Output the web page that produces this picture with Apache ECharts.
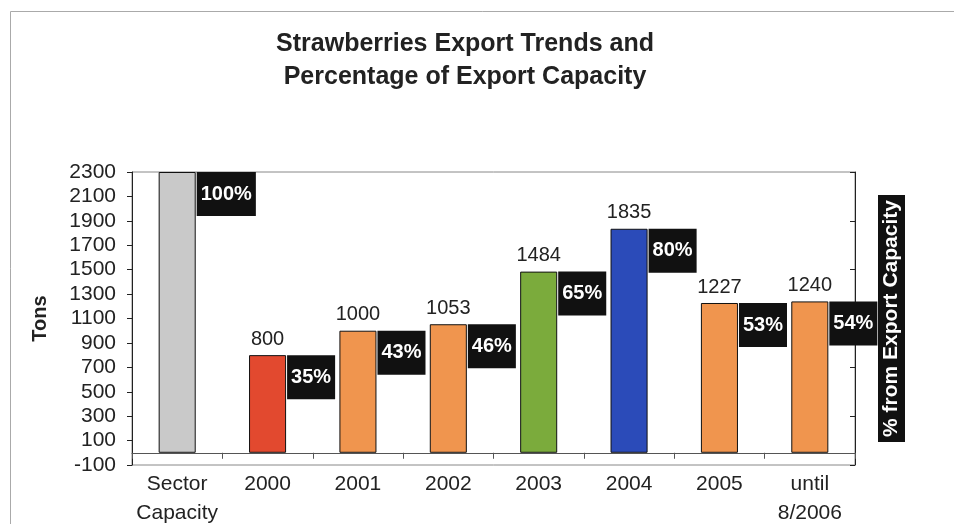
<!DOCTYPE html>
<html>
<head>
<meta charset="utf-8">
<script src="https://cdn.jsdelivr.net/npm/echarts@6/dist/echarts.min.js"></script>
<style>
	html, body { margin: 0; padding: 0; background: #fff; }
	#chart { width: 954px; height: 524px; }
</style>
</head>
<body>
<div id="chart"></div>
<script>
	// 数据
	var categories = ['Sector\nCapacity', '2000', '2001', '2002', '2003', '2004', '2005', 'until\n8/2006'];
	var tons = [2300, 800, 1000, 1053, 1484, 1835, 1227, 1240];
	var pctOfCapacity = [100, 35, 43, 46, 65, 80, 53, 54];
	var tonsTicks = { min: -100, max: 2300, step: 200 };
	var pctTicks = { min: 0, max: 120, step: 20 };

	var barColors = ['#c9c9c9', '#e2492f', '#f0954e', '#f0954e', '#7bab3c', '#2b4bb9', '#f0954e', '#f0954e'];

	var font = 'Liberation Sans, Arial, sans-serif';
	var myChart = echarts.init(document.getElementById('chart'));

	var option = {
		backgroundColor: '#fff',
		animation: false,
		title: {
			text: 'Strawberries Export Trends and\nPercentage of Export Capacity',
			left: 460,
			textAlign: 'center',
			top: 23,
			textStyle: {
				fontFamily: font,
				fontSize: 25,
				fontWeight: 'bold',
				color: '#222',
				lineHeight: 33
			}
		},
		graphic: [{
			type: 'rect',
			shape: { x: 10.5, y: 11.5, width: 960, height: 540 },
			style: { fill: 'none', stroke: '#aaa', lineWidth: 1 },
			silent: true
		}],
		grid: {
			left: 132,
			right: 99,
			top: 172,
			bottom: 59,
			outerBoundsMode: 'none',
			containLabel: false,
			show: true,
			borderColor: '#888',
			borderWidth: 1
		},
		xAxis: [{
			type: 'category',
			data: categories,
			axisLine: { show: false, onZero: false },
			axisTick: { show: false },
			axisLabel: {
				fontFamily: font,
				fontSize: 21,
				color: '#222',
				lineHeight: 29,
				margin: 5,
				interval: 0
			}
		}, {
			type: 'category',
			data: categories,
			position: 'bottom',
			axisLine: { show: true, onZero: true, lineStyle: { color: '#555', width: 1 } },
			axisTick: { show: true, length: 6, lineStyle: { color: '#555' } },
			axisLabel: { show: false }
		}],
		yAxis: [{
			type: 'value',
			min: tonsTicks.min,
			max: tonsTicks.max,
			interval: tonsTicks.step,
			name: 'Tons',
			nameLocation: 'middle',
			nameGap: 82,
			nameTextStyle: {
				fontFamily: font,
				fontSize: 20,
				fontWeight: 'bold',
				color: '#222'
			},
			axisLine: { show: true, lineStyle: { color: '#222' } },
			axisTick: { show: true, length: 5, lineStyle: { color: '#222' } },
			splitLine: { show: false },
			axisLabel: {
				fontFamily: font,
				fontSize: 21,
				color: '#222',
				margin: 16,
				formatter: function(v) {
					return String(v)
				}
			}
		}, {
			type: 'value',
			min: pctTicks.min,
			max: pctTicks.max,
			interval: pctTicks.step,
			position: 'right',
			name: '% from Export Capacity',
			nameLocation: 'middle',
			nameRotate: 90,
			nameGap: 23,
			nameTextStyle: {
				fontFamily: font,
				fontSize: 21,
				fontWeight: 'bold',
				color: '#fff',
				backgroundColor: '#111',
				padding: [3, 5, 3, 5]
			},
			axisLine: { show: true, lineStyle: { color: '#222' } },
			axisTick: { show: true, length: 5, inside: true, lineStyle: { color: '#222' } },
			splitLine: { show: false },
			axisLabel: { show: false }
		}],
		series: [{
			name: 'Tons',
			type: 'bar',
			barWidth: '41%',
			data: tons.map(function(v, i) {
				return {
					value: v,
					itemStyle: { color: barColors[i] }
				}
			}),
			itemStyle: {
				borderColor: '#111',
				borderWidth: 1
			},
			label: {
				show: true,
				position: 'top',
				distance: 6,
				fontFamily: font,
				fontSize: 20,
				color: '#222',
				formatter: function(p) {
					return p.dataIndex === 0 ? '' : p.value
				}
			},
			z: 2
		}, {
			name: 'Percent',
			type: 'bar',
			barWidth: '41%',
			barGap: '-100%',
			data: tons,
			itemStyle: { color: 'rgba(0,0,0,0)' },
			label: {
				show: true,
				position: ['100%', 0],
				offset: [1, 0],
				align: 'left',
				verticalAlign: 'top',
				fontFamily: font,
				fontSize: 20,
				fontWeight: 'bold',
				color: '#fff',
				backgroundColor: '#111',
				padding: [12, 4, 12, 4],
				formatter: function(p) {
					return pctOfCapacity[p.dataIndex] + '%'
				}
			},
			z: 3
		}]
	};
	myChart.setOption(option);
</script>
</body>
</html>
